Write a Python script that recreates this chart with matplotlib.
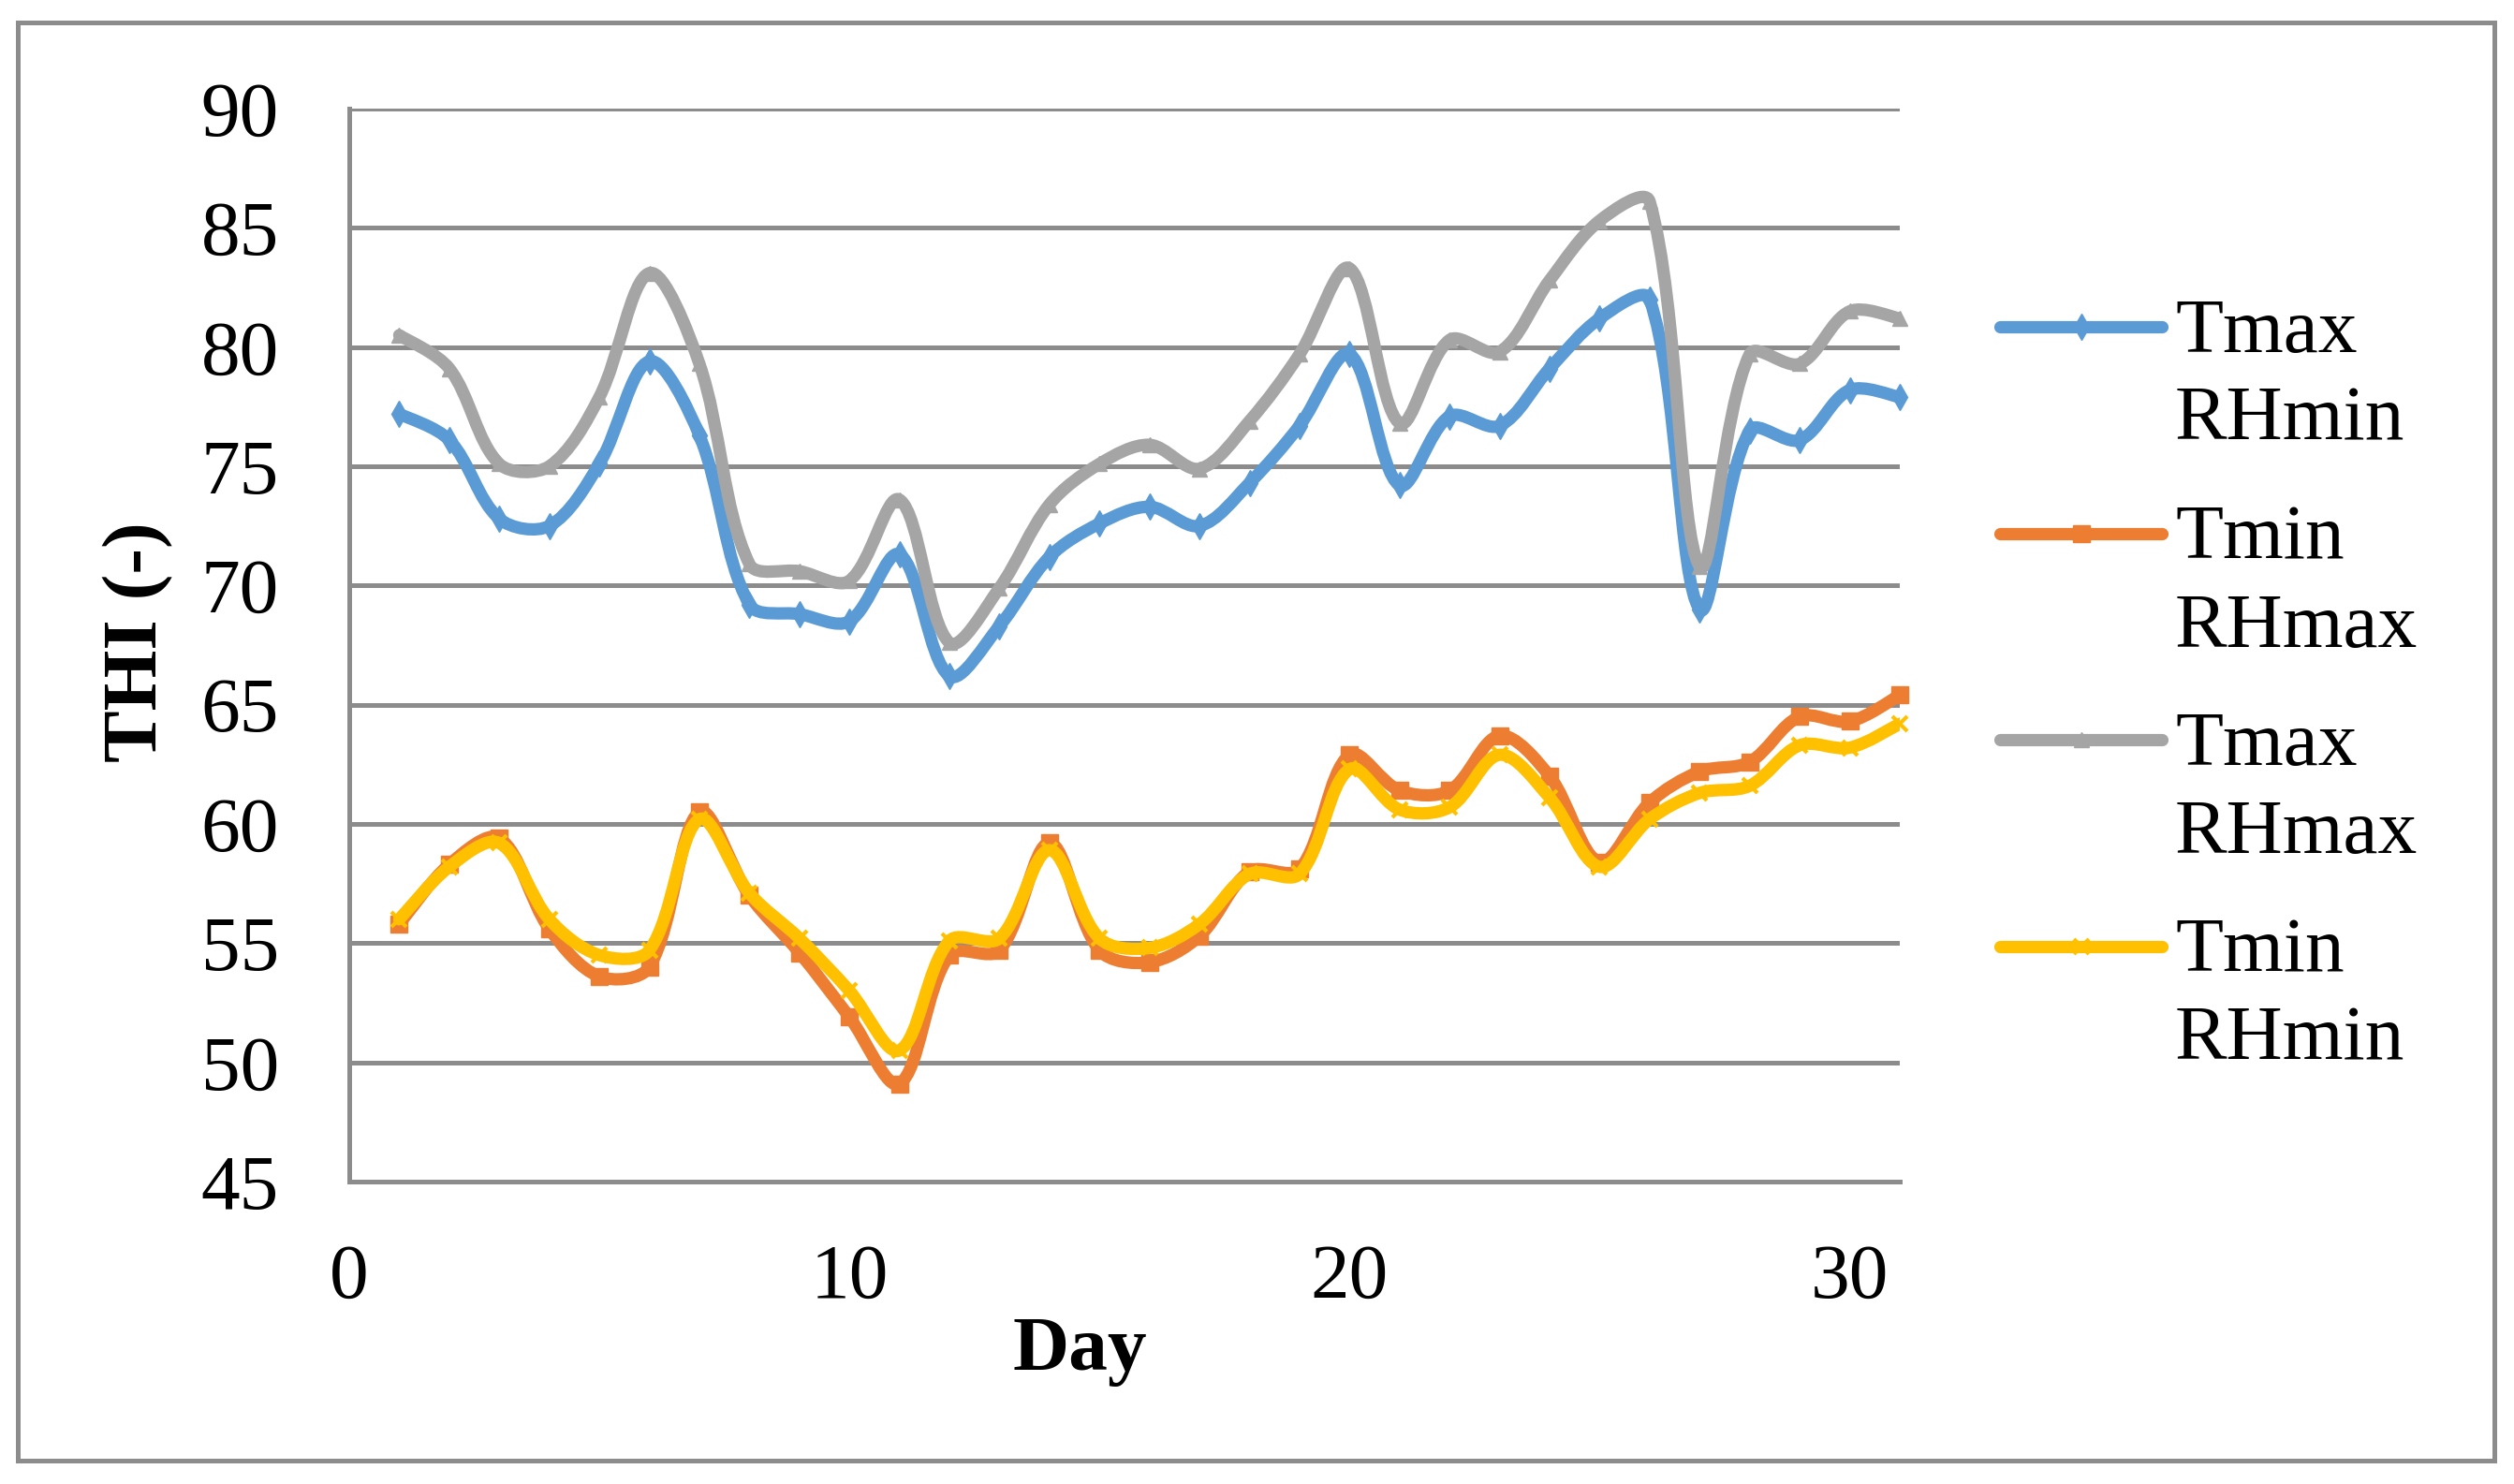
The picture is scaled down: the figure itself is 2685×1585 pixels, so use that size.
import numpy as np
import matplotlib
matplotlib.use("Agg")
import matplotlib.pyplot as plt
from matplotlib.path import Path
from matplotlib.patches import PathPatch, Rectangle
from matplotlib.lines import Line2D

# ---------------- data ----------------
days = list(range(1, 32))
tmax_rhmin = [77.2, 76.1, 72.8, 72.5, 75.1, 79.4, 76.3, 69.2, 68.8, 68.5,
              71.3, 66.2, 68.3, 71.2, 72.6, 73.3, 72.5, 74.3, 76.7, 79.7,
              74.2, 77.1, 76.7, 79.1, 81.2, 82.0, 69.0, 76.5, 76.1, 78.2, 77.9]
tmin_rhmax = [55.8, 58.3, 59.4, 55.6, 53.6, 54.0, 60.5, 57.0, 54.6, 51.9,
              49.1, 54.5, 54.7, 59.2, 54.7, 54.2, 55.3, 58.0, 58.1, 62.9,
              61.4, 61.4, 63.7, 62.0, 58.4, 60.9, 62.2, 62.6, 64.5, 64.3, 65.4]
tmax_rhmax = [80.5, 79.1, 75.1, 75.0, 77.9, 83.1, 79.3, 70.9, 70.6, 70.2,
              73.6, 67.6, 69.9, 73.4, 75.1, 75.9, 74.9, 76.9, 79.7, 83.3,
              76.8, 80.3, 79.8, 82.8, 85.3, 86.1, 70.8, 79.7, 79.3, 81.5, 81.2]
tmin_rhmin = [56.0, 58.2, 59.2, 56.0, 54.5, 54.7, 60.2, 57.1, 55.2, 53.0,
              50.5, 55.1, 55.2, 58.9, 55.2, 54.8, 55.8, 57.9, 57.9, 62.3,
              60.6, 60.7, 62.9, 61.1, 58.2, 60.2, 61.3, 61.6, 63.3, 63.2, 64.2]

series_labels = [("Tmax", "RHmin"), ("Tmin", "RHmax"), ("Tmax", "RHmax"), ("Tmin", "RHmin")]
series_values = [tmax_rhmin, tmin_rhmax, tmax_rhmax, tmin_rhmin]
series_colors = ["#5B9BD5", "#ED7D31", "#A5A5A5", "#FFC000"]
series_markers = ["d", "s", "^", "x"]
series_msize = [14, 12.5, 11, 11.5]

y_ticks = [45, 50, 55, 60, 65, 70, 75, 80, 85, 90]
x_ticks = [0, 10, 20, 30]

# ---------------- style ----------------
FONT = "Liberation Serif"
plt.rcParams["font.family"] = [FONT, "DejaVu Serif"]
FS = 60
GRID = "#8C8C8C"
LW = 9.5

W, H = 2685, 1585
fig = plt.figure(figsize=(W / 100, H / 100), dpi=100)
fig.patch.set_facecolor("white")

L, R, T, B = 373, 2029, 116, 1262
ax = fig.add_axes([L / W, 1 - B / H, (R - L) / W, (B - T) / H])
ax.set_xlim(0, 31)
ax.set_ylim(45, 90)
ax.set_yticks(y_ticks)
ax.set_xticks(x_ticks)
ax.set_yticklabels([str(v) for v in y_ticks])
ax.set_xticklabels([str(v) for v in x_ticks])
ax.tick_params(axis="both", length=0, labelsize=FS, colors="black")
ax.tick_params(axis="y", pad=54)
ax.tick_params(axis="x", pad=48)
for s in ["top", "right"]:
    ax.spines[s].set_visible(False)
for s in ["left", "bottom"]:
    ax.spines[s].set_color(GRID)
    ax.spines[s].set_linewidth(3.6)
ax.grid(axis="y", color=GRID, linewidth=3.6)
ax.grid(axis="x", visible=False)
ax.set_axisbelow(True)


def smooth_path(x, y):
    """Excel-like smoothed line: cubic Bezier through every data point,
    control arms scaled by neighbouring segment lengths (in screen space)."""
    x = np.asarray(x, float)
    y = np.asarray(y, float)
    sp = ax.transData.transform(np.column_stack([x, y]))
    n = len(x)
    pts = np.column_stack([x, y])

    def dist(a, b):
        return float(np.hypot(*(sp[a] - sp[b])))

    verts = [tuple(pts[0])]
    codes = [Path.MOVETO]
    for i in range(n - 1):
        i0 = max(i - 1, 0)
        i3 = min(i + 2, n - 1)
        d01 = dist(i0, i)
        d12 = dist(i, i + 1)
        d23 = dist(i + 1, i3)
        f1 = d12 / (d01 + d12) / 3.0 if i0 != i else 1 / 6.0
        f2 = d12 / (d12 + d23) / 3.0 if i3 != i + 1 else 1 / 6.0
        c1 = pts[i] + (pts[i + 1] - pts[i0]) * f1
        c2 = pts[i + 1] - (pts[i3] - pts[i]) * f2
        verts += [tuple(c1), tuple(c2), tuple(pts[i + 1])]
        codes += [Path.CURVE4] * 3
    return Path(verts, codes)


for vals, col, mk, ms in zip(series_values, series_colors, series_markers, series_msize):
    patch = PathPatch(smooth_path(days, vals), facecolor="none", edgecolor=col,
                      linewidth=LW, capstyle="round", joinstyle="round", zorder=3)
    ax.add_patch(patch)
    ax.plot(days, vals, linestyle="none", marker=mk, markersize=ms,
            color=col, markeredgecolor=col, markeredgewidth=3 if mk == "x" else 1,
            zorder=3, clip_on=False)

ax.set_ylabel("THI (-)", fontsize=FS, fontweight="bold")
ax.yaxis.label.set(rotation_mode="anchor", va="baseline", ha="center")
ax.yaxis.set_label_coords((167 - L) / (R - L), (B - 685.5) / (B - T))
ax.set_xlabel("Day", fontsize=FS, fontweight="bold")
ax.xaxis.label.set(va="baseline", ha="center")
ax.xaxis.set_label_coords((1153 - L) / (R - L), (B - 1463) / (B - T))

# ---------------- legend ----------------
lx0, lx1, tx = 2136, 2309, 2323
for k, (lab, col, mk, ms) in enumerate(zip(series_labels, series_colors, series_markers, series_msize)):
    yl = 349 + 220.5 * k
    fig.add_artist(Line2D([lx0 / W, lx1 / W], [1 - yl / H, 1 - yl / H],
                          transform=fig.transFigure, color=col, linewidth=LW,
                          solid_capstyle="round"))
    fig.add_artist(Line2D([(lx0 + lx1) / 2 / W], [1 - yl / H], transform=fig.transFigure,
                          linestyle="none", marker=mk, markersize=ms, color=col,
                          markeredgecolor=col, markeredgewidth=3 if mk == "x" else 1))
    fig.text(tx / W, 1 - (yl + 27) / H, lab[0], fontsize=FS, va="baseline", ha="left")
    fig.text(tx / W, 1 - (yl + 121) / H, lab[1], fontsize=FS, va="baseline", ha="left")

# ---------------- chart border ----------------
fig.add_artist(Rectangle((19 / W, 1 - 1560 / H), (2664 - 19) / W, (1560 - 24) / H,
                         transform=fig.transFigure, fill=False, edgecolor=GRID,
                         linewidth=3.6))

fig.savefig("out.png", dpi=100, facecolor="white")
